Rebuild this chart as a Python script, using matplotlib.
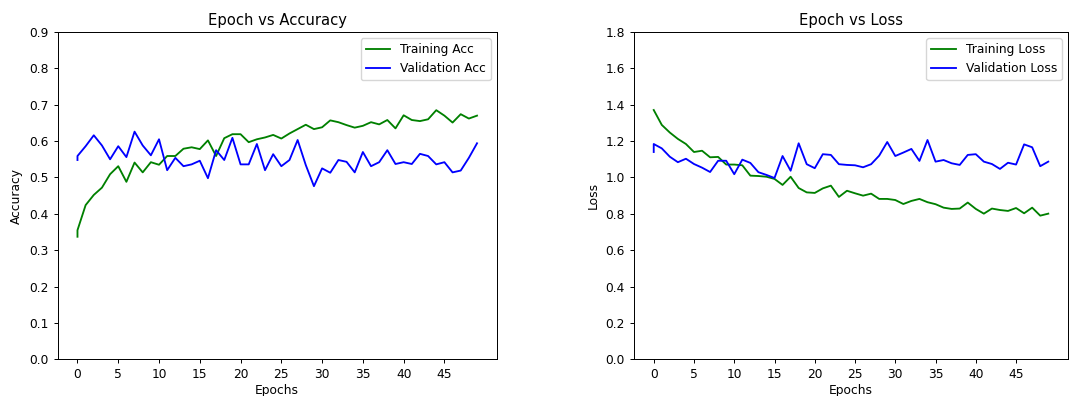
import numpy as np
import matplotlib
matplotlib.use('Agg')
from matplotlib import pyplot as plt

# first epoch is logged twice, hence the repeated 0
epochs = [0] + list(range(50))

train_acc = [0.337, 0.355, 0.424, 0.452, 0.472, 0.509, 0.531, 0.488, 0.541, 0.514, 0.542,
             0.535, 0.559, 0.559, 0.579, 0.583, 0.578, 0.602, 0.559, 0.608, 0.619,
             0.619, 0.597, 0.605, 0.610, 0.617, 0.607, 0.621, 0.633, 0.645, 0.633,
             0.638, 0.657, 0.652, 0.644, 0.637, 0.642, 0.652, 0.646, 0.658, 0.635,
             0.671, 0.658, 0.655, 0.660, 0.685, 0.670, 0.651, 0.674, 0.662, 0.670]
val_acc = [0.548, 0.559, 0.586, 0.616, 0.588, 0.550, 0.586, 0.556, 0.626, 0.588, 0.561,
           0.605, 0.520, 0.554, 0.531, 0.536, 0.546, 0.498, 0.575, 0.548, 0.609,
           0.536, 0.536, 0.592, 0.520, 0.564, 0.531, 0.548, 0.603, 0.534, 0.476,
           0.525, 0.513, 0.548, 0.543, 0.514, 0.570, 0.531, 0.542, 0.575, 0.537,
           0.542, 0.537, 0.565, 0.559, 0.536, 0.542, 0.514, 0.519, 0.554, 0.594]

train_loss = [1.371, 1.371, 1.289, 1.247, 1.212, 1.184, 1.140, 1.147, 1.111, 1.113, 1.071,
              1.071, 1.067, 1.010, 1.008, 1.004, 0.992, 0.959, 1.004, 0.942, 0.918,
              0.915, 0.940, 0.955, 0.893, 0.927, 0.913, 0.900, 0.911, 0.882, 0.882,
              0.876, 0.854, 0.871, 0.882, 0.864, 0.853, 0.834, 0.827, 0.829, 0.862,
              0.827, 0.801, 0.829, 0.821, 0.816, 0.832, 0.803, 0.834, 0.790, 0.801]
val_loss = [1.140, 1.184, 1.160, 1.114, 1.084, 1.103, 1.074, 1.054, 1.030, 1.092, 1.092,
            1.018, 1.098, 1.080, 1.029, 1.014, 0.997, 1.118, 1.037, 1.188, 1.073,
            1.051, 1.128, 1.124, 1.073, 1.069, 1.067, 1.056, 1.073, 1.120, 1.195,
            1.118, 1.137, 1.157, 1.091, 1.206, 1.087, 1.096, 1.078, 1.069, 1.124,
            1.128, 1.087, 1.074, 1.047, 1.081, 1.071, 1.182, 1.166, 1.062, 1.087]

# reference looks like a shrunk-down screenshot, so scale text/lines down a bit
s = 0.885
plt.rcParams['font.size'] = 10 * s
plt.rcParams['axes.titlesize'] = 12 * s
plt.rcParams['axes.linewidth'] = 0.8 * s
plt.rcParams['xtick.major.size'] = 3.5 * s
plt.rcParams['ytick.major.size'] = 3.5 * s
plt.rcParams['xtick.major.width'] = 0.8 * s
plt.rcParams['ytick.major.width'] = 0.8 * s

fig = plt.figure(figsize=(10.7, 3.96), dpi=100)
bottom = 36.7 / 396
height = 327.3 / 396
ax1 = fig.add_axes([57.5 / 1070, bottom, 439.5 / 1070, height])
ax2 = fig.add_axes([634 / 1070, bottom, 434 / 1070, height])

ax1.plot(epochs, train_acc, color='green', lw=1.5 * s, label='Training Acc')
ax1.plot(epochs, val_acc, color='blue', lw=1.5 * s, label='Validation Acc')
ax1.set_title('Epoch vs Accuracy', pad=6 * s)
ax1.set_xlabel('Epochs', labelpad=2)
ax1.set_ylabel('Accuracy')
ax1.set_ylim(0, 0.9)
ax1.set_yticks(np.arange(0, 0.91, 0.1))
ax1.set_xticks(np.arange(0, 50, 5))
ax1.legend(loc='upper right')

ax2.plot(epochs, train_loss, color='green', lw=1.5 * s, label='Training Loss')
ax2.plot(epochs, val_loss, color='blue', lw=1.5 * s, label='Validation Loss')
ax2.set_title('Epoch vs Loss', pad=6 * s)
ax2.set_xlabel('Epochs', labelpad=2)
ax2.set_ylabel('Loss')
ax2.set_ylim(0, 1.8)
ax2.set_yticks(np.arange(0, 1.81, 0.2))
ax2.set_xticks(np.arange(0, 50, 5))
ax2.legend(loc='upper right')

plt.savefig('out.png', dpi=100)
